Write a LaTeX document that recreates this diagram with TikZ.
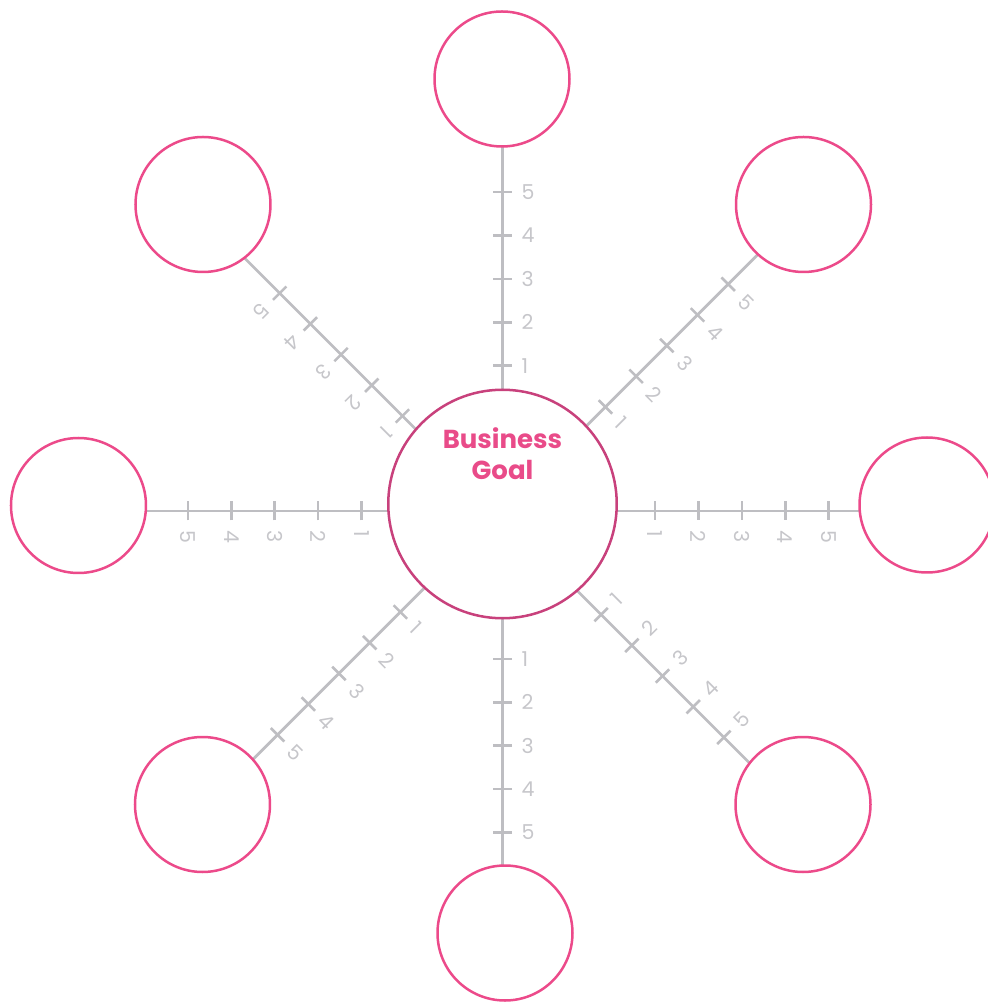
\documentclass[tikz,border=0pt]{standalone}
\usepackage{fontspec}
\setmainfont{Poppins}
\usepackage{xcolor}
\usetikzlibrary{positioning}

\definecolor{rimpink}{HTML}{EC4A8A}
\definecolor{hubpink}{HTML}{C8417C}
\definecolor{titlepink}{HTML}{E94B89}
\definecolor{scalegray}{HTML}{BEBEC2}
\definecolor{numgray}{HTML}{C6C6CA}

\begin{document}
\begin{tikzpicture}[x=1pt, y=1pt,
    axis/.style={draw=scalegray, line width=2.8pt},
    tickmark/.style={draw=scalegray, line width=2.6pt},
    scalenum/.style={text=numgray, inner sep=0pt, anchor=west, font=\fontsize{20.5}{24}\selectfont},
    spoke/.style={circle, draw=rimpink, line width=2.5pt, fill=white, minimum size=135pt, inner sep=0pt},
    hub/.style={circle, draw=hubpink, line width=2.5pt, fill=white, minimum size=228.5pt, inner sep=0pt}]

    % 0. Canvas
    \useasboundingbox (-502.5,-499) rectangle (484.5,504);

    % 1. Points where the scales cross
    \coordinate (vo) at (0,-8.3);
    \coordinate (ho) at (5.8,-7);
    \coordinate (ro) at (0.4,-5.5);
    \coordinate (fo) at (-0.7,-11.3);

    % 2. Scales (origin / direction / first tick / side of the numbers)
    \foreach \org/\dir/\first/\side [count=\a] in {vo/90/146.6/0, ro/45/145/-45, ho/0/146.7/-90, fo/-45/140.5/45,
                                               vo/-90/146.6/0, ro/-135/145/-45, ho/180/146.7/-90, fo/135/140.5/225} {
        \draw[axis] (\org) -- ++(\dir:400) coordinate (end\a);
        \foreach \k in {1,...,5} {
            \path (\org) ++(\dir:\first+43.4*\k-43.4) coordinate (t);
            \draw[tickmark] (t) ++(\dir+90:9.5) -- ++(\dir-90:19);
            \path (t) ++(\side:19) node[scalenum, rotate=\side] (s\a-\k) {\k};
        }
    }

    % 3. Business goal in the middle
    \node[hub] (goal) at (0,0) {};
    \node[text=titlepink, align=center, font=\bfseries\fontsize{26}{31.6}\selectfont] (goaltext) at (0,50.5) {Business\\Goal};

    % 4. Outer circles
    \node[spoke] (top) at (-0.5,425) {};
    \node[spoke] (topright) at (301,299.5) {};
    \node[spoke] (right) at (424.5,-1) {};
    \node[spoke] (botright) at (300.5,-300.5) {};
    \node[spoke] (bottom) at (2.5,-429) {};
    \node[spoke] (botleft) at (-300,-300.5) {};
    \node[spoke] (left) at (-424,-1.5) {};
    \node[spoke] (topleft) at (-299.5,299.5) {};

\end{tikzpicture}
\end{document}
